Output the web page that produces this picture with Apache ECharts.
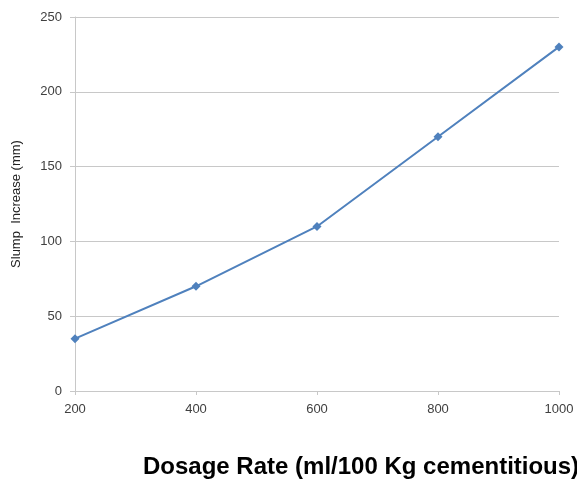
<!DOCTYPE html>
<html><head><meta charset="utf-8">
<script src="https://cdn.jsdelivr.net/npm/echarts@6/dist/echarts.min.js"></script>
<style>html,body{margin:0;padding:0;background:#fff}#c{width:577px;height:479px}</style>
</head><body><div id="c"></div>
<script>
const xValues = [200, 400, 600, 800, 1000];
const slump = [35, 70, 110, 170, 230];
const chart = echarts.init(document.getElementById('c'));
chart.setOption({
  animation: false,
  grid: {left: 75, right: 18, top: 17, bottom: 88},
  xAxis: {
    type: 'value', min: 200, max: 1000, interval: 200,
    axisLine: {lineStyle: {color: '#c8c8c8', width: 1}},
    axisTick: {show: true, length: 4, lineStyle: {color: '#c8c8c8'}},
    axisLabel: {color: '#404040', fontFamily: 'Liberation Sans, Arial', fontSize: 13, margin: 12,
      formatter: v => String(v)},
    splitLine: {show: false}
  },
  yAxis: {
    type: 'value', min: 0, max: 250, interval: 50,
    name: 'Slump  Increase (mm)', nameLocation: 'middle', nameGap: 52,
    nameTextStyle: {color: '#222', fontFamily: 'Liberation Sans, Arial', fontSize: 13},
    axisLine: {show: true, lineStyle: {color: '#c8c8c8', width: 1}},
    axisTick: {show: true, length: 5, lineStyle: {color: '#c8c8c8'}},
    axisLabel: {color: '#404040', fontFamily: 'Liberation Sans, Arial', fontSize: 13, margin: 13},
    splitLine: {lineStyle: {color: '#c8c8c8', width: 1}}
  },
  graphic: [{
    type: 'text', left: 143, top: 455,
    style: {text: 'Dosage Rate (ml/100 Kg cementitious)', fill: '#000', font: 'bold 24px "Liberation Sans", Arial'}
  }],
  series: [{
    type: 'line',
    data: xValues.map((x, i) => [x, slump[i]]),
    symbol: 'diamond', symbolSize: 9,
    lineStyle: {color: '#4f81bd', width: 2},
    itemStyle: {color: '#4f81bd'}
  }]
});
</script></body></html>
